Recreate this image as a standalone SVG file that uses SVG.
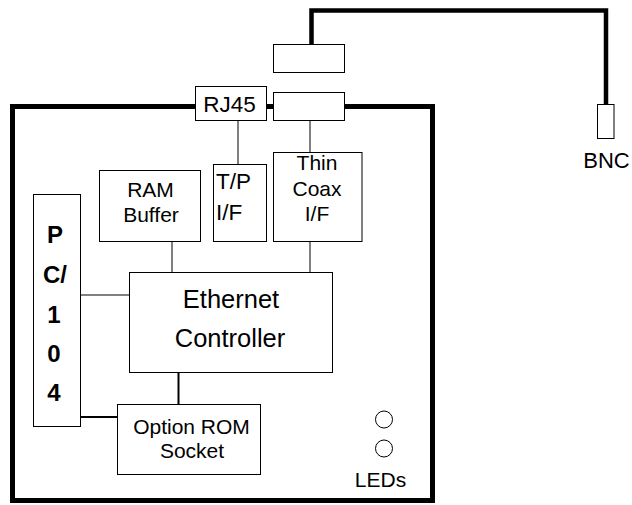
<svg xmlns="http://www.w3.org/2000/svg" width="632" height="505" viewBox="0 0 632 505">
<style>
.box{fill:#fff;stroke:#000;stroke-width:1}
.thick{fill:none;stroke:#000;stroke-width:5}
.cable{fill:none;stroke:#000;stroke-width:4.5}
.thin{fill:none;stroke:#000;stroke-width:1}
.med{fill:none;stroke:#000;stroke-width:2}
text{font-family:"Liberation Sans",Arial,sans-serif;font-size:21px;fill:#000}
.c{text-anchor:middle}
.b{font-weight:bold;font-size:24px}
</style>
<rect width="632" height="505" fill="#fff"/>
<g id="board-border">
<rect class="thick" x="12.5" y="106.5" width="420" height="394"/>
</g>
<g id="connectors">
<path class="cable" d="M311.5 44.5 V10.5 H606 V104.5"/>
<path class="thin" d="M238 120.5 V164.5"/>
<path class="thin" d="M310 120.5 V152.5"/>
<path class="thin" d="M172 241.5 V272.5"/>
<path class="thin" d="M310 241.5 V272.5"/>
<path class="thin" d="M80.5 295 H129.5"/>
<path class="med" d="M178.5 372.5 V404.5"/>
<path class="med" d="M80.5 417 H117.5"/>
</g>
<g id="coax-plug">
<rect class="box" x="273.5" y="44.5" width="71" height="28"/>
</g>
<g id="rj45">
<rect class="box" x="195.5" y="86.5" width="71" height="34"/>
<text class="c" x="229.5" y="111.5" style="font-size:22.5px">RJ45</text>
</g>
<g id="coax-connector">
<rect class="box" x="273.5" y="92.5" width="71" height="28"/>
</g>
<g id="bnc">
<rect class="box" x="597.5" y="104.5" width="16.5" height="34"/>
<text class="c" x="606.5" y="167.5" style="font-size:22px">BNC</text>
</g>
<g id="tp-if">
<rect class="box" x="213.5" y="164.5" width="53" height="77"/>
<text x="216" y="188.5" style="font-size:22.5px">T/P</text>
<text x="216" y="220" style="font-size:22.5px">I/F</text>
</g>
<g id="thin-coax-if">
<rect class="box" x="273.5" y="152.5" width="88.5" height="89"/>
<text class="c" x="317" y="170">Thin</text>
<text class="c" x="317" y="195.5">Coax</text>
<text class="c" x="317" y="220.5">I/F</text>
</g>
<g id="ram-buffer">
<rect class="box" x="99.5" y="170.5" width="101" height="71"/>
<text class="c" x="150.5" y="196.5">RAM</text>
<text class="c" x="151" y="221.5">Buffer</text>
</g>
<g id="pc104">
<rect class="box" x="33.5" y="194.5" width="47" height="232"/>
<text class="c b" x="55" y="243">P</text>
<text class="c b" x="55" y="283">C/</text>
<text class="c b" x="54" y="322.5">1</text>
<text class="c b" x="54" y="361.5">0</text>
<text class="c b" x="54" y="400.5">4</text>
</g>
<g id="ethernet-controller">
<rect class="box" x="129.5" y="272.5" width="203" height="100"/>
<text class="c" x="231" y="307.5" style="font-size:25.5px">Ethernet</text>
<text class="c" x="230" y="346.5" style="font-size:25.5px">Controller</text>
</g>
<g id="option-rom">
<rect class="box" x="117.5" y="404.5" width="143" height="70"/>
<text class="c" x="191.5" y="433.5">Option ROM</text>
<text class="c" x="192" y="457.5">Socket</text>
</g>
<g id="leds">
<circle class="thin" cx="384" cy="419.5" r="8.5"/>
<circle class="thin" cx="384" cy="448.5" r="8.5"/>
<text class="c" x="380.5" y="486.5">LEDs</text>
</g>
</svg>
